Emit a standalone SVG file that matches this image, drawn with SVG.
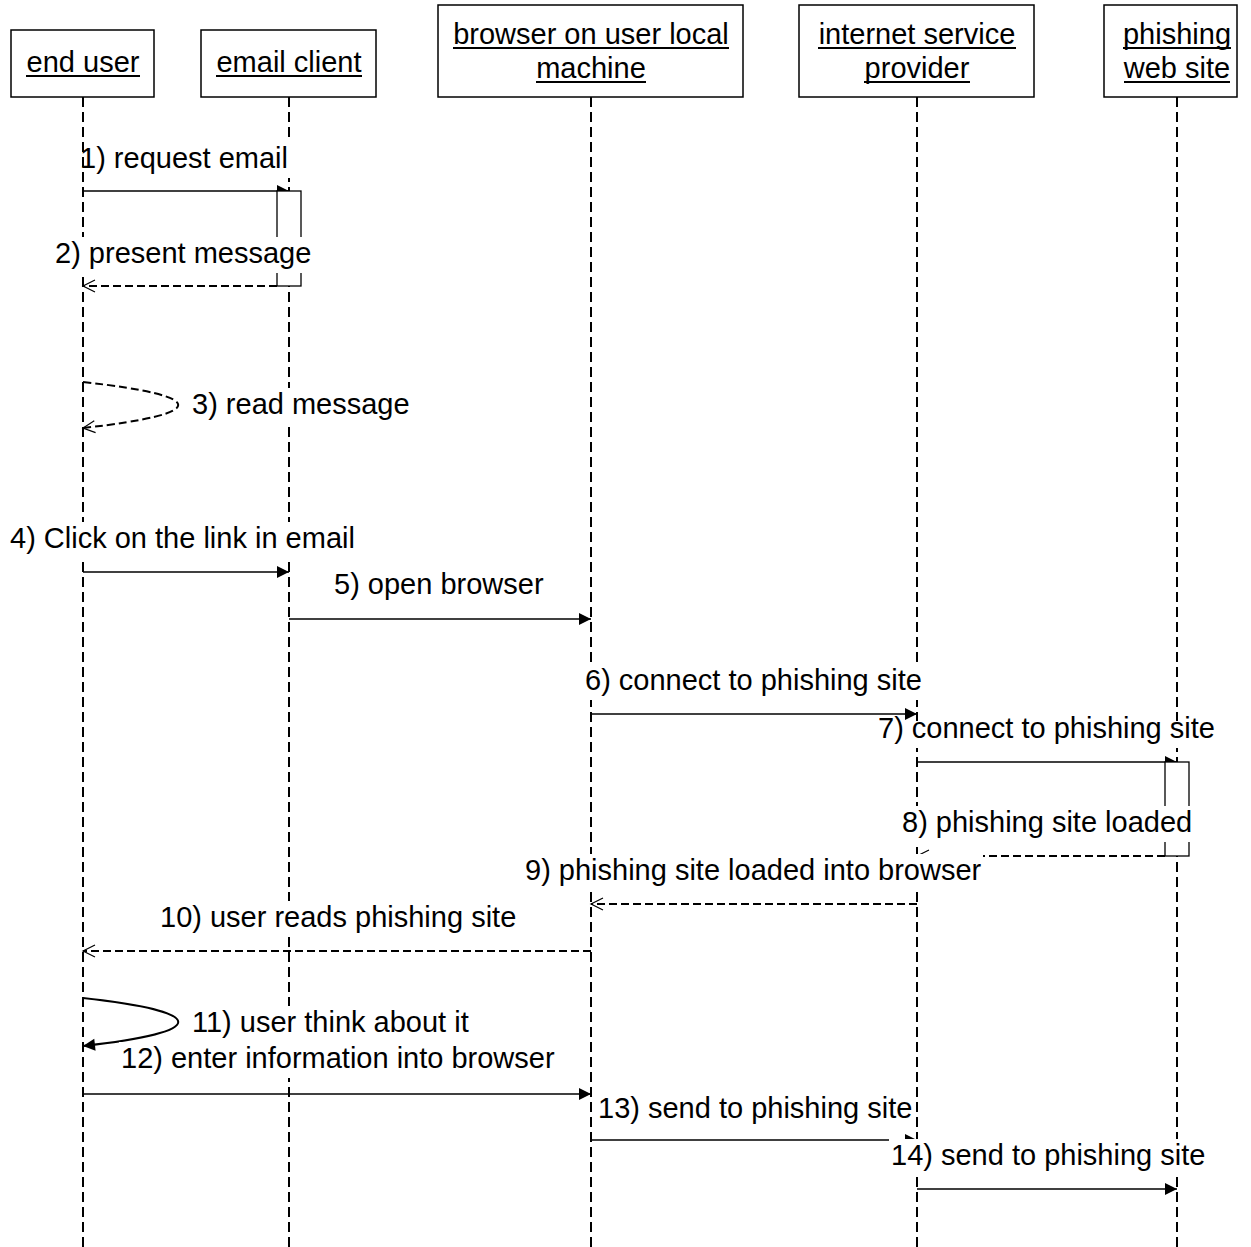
<svg xmlns="http://www.w3.org/2000/svg" width="1251" height="1247" viewBox="0 0 1251 1247">
  <style>
    text { font-family: "Liberation Sans", Arial, sans-serif; font-size: 29px; fill: #000; }
    .box { fill: #fff; stroke: #000; stroke-width: 1.5; }
    .uline { stroke: #000; stroke-width: 2; }
    .life { stroke: #000; stroke-width: 2; stroke-dasharray: 10 5; fill: none; }
    .msg { stroke: #000; stroke-width: 1.5; fill: none; }
    .loop { stroke: #000; stroke-width: 2; fill: none; }
    .ret { stroke: #000; stroke-width: 2; fill: none; stroke-dasharray: 8 4; }
    .act { fill: #fff; stroke: #000; stroke-width: 1.3; }
    .lblbg { fill: #fff; }
  </style>
  <defs>
    <marker id="filled" markerUnits="userSpaceOnUse" markerWidth="14" markerHeight="14" refX="12" refY="6" orient="auto" overflow="visible">
      <path d="M0,0 L12,6 L0,12 Z" fill="#000"/>
    </marker>
    <marker id="open" markerUnits="userSpaceOnUse" markerWidth="14" markerHeight="14" refX="12" refY="6" orient="auto" overflow="visible">
      <path d="M0,0 L12,6 L0,12" fill="none" stroke="#000" stroke-width="1.2"/>
    </marker>
  </defs>

  <!-- lifelines -->
  <g id="lifelines">
    <line class="life" x1="83" y1="97" x2="83" y2="1247"/>
    <line class="life" x1="289" y1="97" x2="289" y2="1247"/>
    <line class="life" x1="591" y1="97" x2="591" y2="1247"/>
    <line class="life" x1="917" y1="97" x2="917" y2="1247"/>
    <line class="life" x1="1177" y1="97" x2="1177" y2="1247"/>
  </g>

  <!-- participant heads -->
  <g id="end-user">
    <rect class="box" x="11" y="30" width="143" height="67"/>
    <text x="83" y="72" text-anchor="middle">end user</text>
    <line class="uline" x1="26" y1="76" x2="140" y2="76"/>
  </g>
  <g id="email-client">
    <rect class="box" x="201" y="30" width="175" height="67"/>
    <text x="289" y="72" text-anchor="middle">email client</text>
    <line class="uline" x1="216" y1="76" x2="362" y2="76"/>
  </g>
  <g id="browser">
    <rect class="box" x="438" y="5" width="305" height="92"/>
    <text x="591" y="44" text-anchor="middle">browser on user local</text>
    <line class="uline" x1="453" y1="48" x2="729" y2="48"/>
    <text x="591" y="78" text-anchor="middle">machine</text>
    <line class="uline" x1="536" y1="82" x2="646" y2="82"/>
  </g>
  <g id="isp">
    <rect class="box" x="799" y="5" width="235" height="92"/>
    <text x="917" y="44" text-anchor="middle">internet service</text>
    <line class="uline" x1="818" y1="48" x2="1016" y2="48"/>
    <text x="917" y="78" text-anchor="middle">provider</text>
    <line class="uline" x1="864" y1="82" x2="970" y2="82"/>
  </g>
  <g id="phishing-site">
    <rect class="box" x="1104" y="5" width="133" height="92"/>
    <text x="1177" y="44" text-anchor="middle">phishing</text>
    <line class="uline" x1="1123" y1="48" x2="1231" y2="48"/>
    <text x="1177" y="78" text-anchor="middle">web site</text>
    <line class="uline" x1="1124" y1="82" x2="1230" y2="82"/>
  </g>

  <!-- messages -->
  <g id="connectors">
    <line class="msg" x1="83" y1="191" x2="289" y2="191" marker-end="url(#filled)"/>
    <line class="ret" x1="277" y1="286" x2="83" y2="286" marker-end="url(#open)"/>
    <path class="ret" d="M83,382 C210,396 210,414 83,428" marker-end="url(#open)"/>
    <line class="msg" x1="83" y1="572" x2="289" y2="572" marker-end="url(#filled)"/>
    <line class="msg" x1="289" y1="619" x2="591" y2="619" marker-end="url(#filled)"/>
    <line class="msg" x1="591" y1="714" x2="917" y2="714" marker-end="url(#filled)"/>
    <line class="msg" x1="917" y1="762" x2="1177" y2="762" marker-end="url(#filled)"/>
    <line class="ret" x1="1165" y1="856" x2="917" y2="856" marker-end="url(#open)"/>
    <line class="ret" x1="917" y1="904" x2="591" y2="904" marker-end="url(#open)"/>
    <line class="ret" x1="591" y1="951" x2="83" y2="951" marker-end="url(#open)"/>
    <path class="loop" d="M83,998 C210,1012 210,1032 83,1046" marker-end="url(#filled)"/>
    <line class="msg" x1="83" y1="1094" x2="591" y2="1094" marker-end="url(#filled)"/>
    <line class="msg" x1="591" y1="1140" x2="917" y2="1140" marker-end="url(#filled)"/>
    <line class="msg" x1="917" y1="1189" x2="1177" y2="1189" marker-end="url(#filled)"/>
  </g>

  <!-- activation bars -->
  <g id="activations">
    <rect class="act" x="277" y="191" width="24" height="95"/>
    <rect class="act" x="1165" y="762" width="24" height="94"/>
  </g>

  <!-- message labels -->
  <g id="labels">
    <rect class="lblbg" x="84" y="142" width="206" height="36"/>
    <text x="80" y="168">1) request email</text>
    <rect class="lblbg" x="53" y="237" width="261" height="36"/>
    <text x="55" y="263">2) present message</text>
    <rect class="lblbg" x="190" y="388" width="222" height="36"/>
    <text x="192" y="414">3) read message</text>
    <rect class="lblbg" x="8" y="522" width="349" height="36"/>
    <text x="10" y="548">4) Click on the link in email</text>
    <rect class="lblbg" x="332" y="568" width="214" height="36"/>
    <text x="334" y="594">5) open browser</text>
    <rect class="lblbg" x="583" y="664" width="341" height="36"/>
    <text x="585" y="690">6) connect to phishing site</text>
    <rect class="lblbg" x="876" y="721" width="341" height="27"/>
    <text x="878" y="738">7) connect to phishing site</text>
    <rect class="lblbg" x="900" y="806" width="294" height="36"/>
    <text x="902" y="832">8) phishing site loaded</text>
    <rect class="lblbg" x="523" y="854" width="460" height="36"/>
    <text x="525" y="880">9) phishing site loaded into browser</text>
    <rect class="lblbg" x="158" y="901" width="360" height="36"/>
    <text x="160" y="927">10) user reads phishing site</text>
    <rect class="lblbg" x="190" y="1006" width="283" height="34"/>
    <text x="192" y="1032">11) user think about it</text>
    <rect class="lblbg" x="119" y="1042" width="438" height="36"/>
    <text x="121" y="1068">12) enter information into browser</text>
    <rect class="lblbg" x="596" y="1092" width="318" height="36"/>
    <text x="598" y="1118">13) send to phishing site</text>
    <rect class="lblbg" x="889" y="1139" width="318" height="36"/>
    <text x="891" y="1165">14) send to phishing site</text>
  </g>
</svg>
